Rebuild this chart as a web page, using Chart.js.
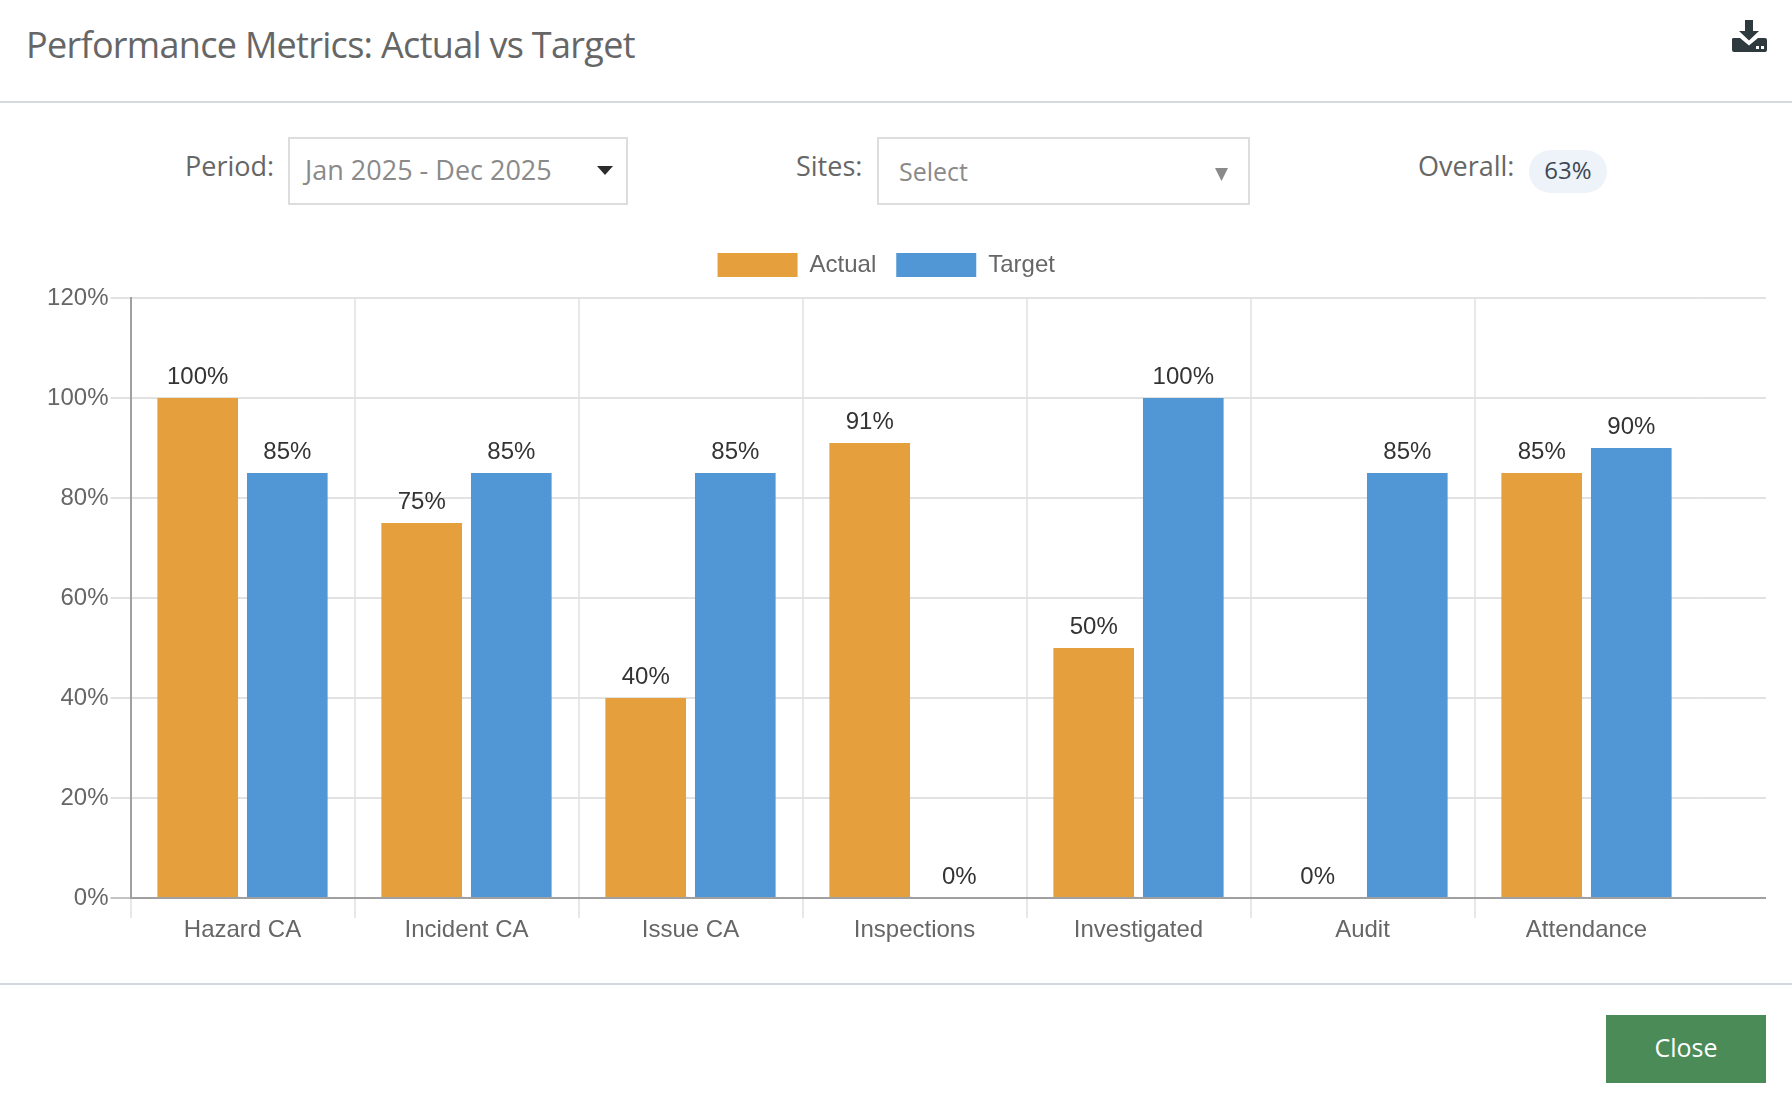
<!DOCTYPE html>
<html>
<head>
<meta charset="utf-8">
<title>Performance Metrics: Actual vs Target</title>
<script src="https://cdn.jsdelivr.net/npm/chart.js@4"></script>
<style>
html,body{margin:0;padding:0;background:#fff;width:1792px;height:1106px;overflow:hidden}
body{font-family:"Open Sans",sans-serif;position:relative}
.abs{position:absolute;white-space:nowrap}
.line{position:absolute;left:0;width:1792px;height:2px;background:#d3d9de}
.box{position:absolute;border:2px solid #ddd;box-sizing:border-box;background:#fff}
.lbl{font-size:27px;color:#666;line-height:36px}
#chartWrap{position:absolute;left:0;top:233px;width:1792px;height:725px}
</style>
</head>
<body>

<div class="abs" style="left:26px;top:21px;font-size:36px;letter-spacing:-.7px;line-height:48px;color:#666">Performance Metrics: Actual vs Target</div>
<svg class="abs" style="left:1732px;top:19px" width="35" height="34" viewBox="0 0 35 34">
<path fill="#2f3a3f" d="M13 1h8v11h6l-10 9.500L7 12h6zM1 19h7l9 7.500L26 19h7a2 2 0 0 1 2 2v10a2 2 0 0 1-2 2H2a2 2 0 0 1-2-2V21a2 2 0 0 1 1-2z"/>
<rect x="24" y="27" width="3" height="3" fill="#fff"/><rect x="29" y="27" width="3" height="3" fill="#fff"/>
</svg>
<div class="line" style="top:101px"></div>

<div class="abs lbl" style="left:185px;top:148px">Period:</div>
<div class="box" style="left:288px;top:137px;width:340px;height:68px"></div>
<div class="abs" style="left:305px;top:152px;font-size:27px;line-height:36px;color:#8a8a8a">Jan 2025 - Dec 2025</div>
<svg class="abs" style="left:597px;top:166px" width="16" height="10"><polygon points="0,0 16,0 8,9" fill="#2b2b2b"/></svg>

<div class="abs lbl" style="left:796px;top:148px">Sites:</div>
<div class="box" style="left:877px;top:137px;width:373px;height:68px"></div>
<div class="abs" style="left:899px;top:153px;font-size:25px;line-height:36px;color:#8a8a8a">Select</div>
<svg class="abs" style="left:1215px;top:168px" width="13" height="14"><polygon points="0,0 13,0 6.500,13" fill="#8a8a8a"/></svg>

<div class="abs lbl" style="left:1418px;top:148px">Overall:</div>
<div class="abs" style="left:1529px;top:150px;width:78px;height:43px;border-radius:22px;background:#eef3fa;text-align:center;font-size:24px;line-height:39px;color:#3d4852">63%</div>

<div id="chartWrap"><canvas id="c" width="1792" height="725"></canvas></div>

<div class="line" style="top:983px"></div>
<div class="abs" style="left:1606px;top:1015px;width:160px;height:68px;background:#4a8b57;color:#fff;text-align:center;font-size:25px;line-height:64px">Close</div>

<script>
const categories = ["Hazard CA","Incident CA","Issue CA","Inspections","Investigated","Audit","Attendance"]
const actualValues = [100,75,40,91,50,0,85]
const targetValues = [85,85,85,0,100,85,90]
const yTicksMax = 120
const yTicksStep = 20

const orange = "#e59f3c"
const blue = "#5297d5"
const gridColor = "#e2e2e2"
const axisColor = "#a0a0a0"
const fontName = "'Liberation Sans', Arial, sans-serif"

// plot keeps going past the last category in the original, so the lines get extended by hand
const extraLines = {
id:"extraLines",
beforeDatasetsDraw(chart){
const ctx = chart.ctx
const y = chart.scales.y
const a = chart.chartArea
const endX = 1766
ctx.save()
y.ticks.forEach(function(t){
const py = y.getPixelForValue(t.value)
ctx.beginPath()
ctx.lineWidth = 2
ctx.strokeStyle = t.value === 0 ? axisColor : gridColor
ctx.moveTo(a.right,py)
ctx.lineTo(endX,py)
ctx.stroke()
})
ctx.restore()
}
}

const valueLabels = {
id:"valueLabels",
afterDatasetsDraw(chart){
const ctx = chart.ctx
ctx.save()
ctx.font = "24px " + fontName
ctx.fillStyle = "#333"
ctx.textAlign = "center"
ctx.textBaseline = "middle"
chart.data.datasets.forEach(function(ds,i){
chart.getDatasetMeta(i).data.forEach(function(bar,j){
ctx.fillText(ds.data[j] + "%",bar.x,bar.y - 21)
})
})
ctx.restore()
}
}

// more room under the legend, and legend centred on the whole width rather than the 7 categories
const legendTweak = {
id:"legendTweak",
beforeInit(chart){
const fit = chart.legend.fit
chart.legend.fit = function(){
fit.call(this)
this.height += 11
}
},
afterLayout(chart){
chart.legend.left += 37
chart.legend.right += 37
}
}

new Chart(document.getElementById("c"),{
type:"bar",
data:{
labels:categories,
datasets:[
{label:"Actual",data:actualValues,backgroundColor:orange},
{label:"Target",data:targetValues,backgroundColor:blue}
]
},
options:{
responsive:false,
animation:false,
layout:{padding:{left:0,right:93.5,top:0,bottom:0}},
font:{family:fontName},
plugins:{
tooltip:{enabled:false},
legend:{
position:"top",
labels:{boxWidth:80,boxHeight:24,padding:20,color:"#666",font:{family:fontName,size:24}}
}
},
scales:{
x:{
afterFit(s){s.height = 60},
grid:{
tickLength:20,
lineWidth:2,
color(c){return c.tick ? "#e8e8e8" : "rgba(0,0,0,0)"}
},
border:{color:axisColor,width:2},
ticks:{color:"#666",padding:-2,maxRotation:0,font:{family:fontName,size:24}}
},
y:{
min:0,
max:yTicksMax,
afterFit(s){s.width = 130.5},
grid:{
tickLength:20,
lineWidth:2,
color:gridColor,
tickColor(c){return c.tick && c.tick.value === 0 ? "#c4c4c4" : gridColor}
},
border:{color:axisColor,width:2},
ticks:{
stepSize:yTicksStep,
color:"#666",
padding:2,
font:{family:fontName,size:24},
callback(v){return v + "%"}
}
}
}
},
plugins:[extraLines,valueLabels,legendTweak]
})
</script>
</body>
</html>
